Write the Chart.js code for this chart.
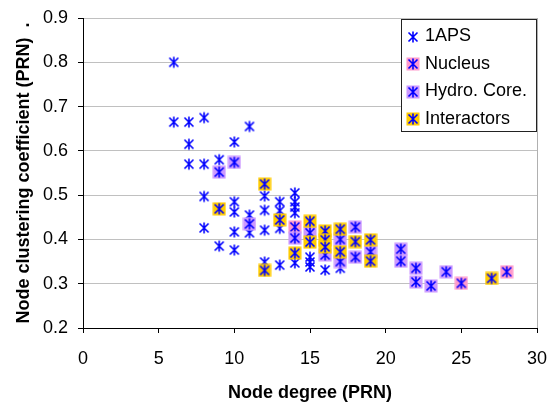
<!DOCTYPE html>
<html>
<head>
<meta charset="utf-8">
<script src="https://cdn.jsdelivr.net/npm/chart.js@4"></script>
<style>
  html, body { margin: 0; padding: 0; background: #fff; }
  canvas { display: block; }
</style>
</head>
<body>
<canvas id="myChart" width="547" height="405"></canvas>
<script>
// data
const apsDeg  = [6, 6, 7, 7, 7, 8, 8, 8, 8, 9, 9, 10, 10, 10, 10, 10, 11, 11, 11, 12, 12, 12, 12, 13, 13, 13, 13, 14, 14, 14, 14, 14, 15, 15, 15, 16, 17];
const apsCoef = [0.80, 0.665, 0.665, 0.615, 0.57, 0.675, 0.57, 0.497, 0.426, 0.58, 0.385, 0.62, 0.485, 0.462, 0.417, 0.376, 0.655, 0.455, 0.415, 0.498, 0.466, 0.421, 0.349, 0.485, 0.465, 0.425, 0.342, 0.505, 0.485, 0.473, 0.46, 0.347, 0.36, 0.349, 0.338, 0.331, 0.335];

const nucDeg  = [14, 25, 28];
const nucCoef = [0.428, 0.301, 0.327];

const hydDeg  = [9, 10, 11, 14, 15, 16, 17, 17, 18, 18, 19, 21, 21, 22, 22, 23, 24];
const hydCoef = [0.552, 0.574, 0.435, 0.403, 0.415, 0.365, 0.40, 0.35, 0.428, 0.36, 0.372, 0.378, 0.351, 0.335, 0.304, 0.295, 0.327];

const intDeg  = [9, 12, 12, 13, 14, 15, 15, 16, 16, 16, 17, 17, 18, 19, 19, 27];
const intCoef = [0.469, 0.525, 0.33, 0.444, 0.369, 0.441, 0.394, 0.419, 0.399, 0.383, 0.423, 0.372, 0.395, 0.399, 0.351, 0.312];

const seriesNames = ['1APS', 'Nucleus', 'Hydro. Core.', 'Interactors'];
const seriesFills = [null, '#ff99cc', '#cc99ff', '#ffcc00'];

const xTicks = [0, 5, 10, 15, 20, 25, 30];
const yTicks = [0.2, 0.3, 0.4, 0.5, 0.6, 0.7, 0.8, 0.9];

const FONT = "'Liberation Sans', Arial, sans-serif";

// excel style star marker, optionally on a coloured square
function makeMarker(fill) {
    const c = document.createElement('canvas');
    c.width = 14;
    c.height = 14;
    const g = c.getContext('2d');
    if (fill) {
        g.fillStyle = fill;
        g.fillRect(0.5, 0.5, 13, 13);
    }
    g.strokeStyle = '#0000ff';
    g.lineWidth = 1.6;
    g.beginPath();
    g.moveTo(2.5, 2.5); g.lineTo(11.5, 11.5);
    g.moveTo(11.5, 2.5); g.lineTo(2.5, 11.5);
    g.moveTo(7, 1.5); g.lineTo(7, 12.5);
    g.stroke();
    return c;
}

const markers = seriesFills.map(makeMarker);

function pts(xs, ys) {
    return xs.map((x, i) => ({ x: x, y: ys[i] }));
}

function noPad(s) {
    s.paddingLeft = 0;
    s.paddingRight = 0;
    s.paddingTop = 0;
    s.paddingBottom = 0;
}

const boxLegend = {
    id: 'boxLegend',
    afterDraw(chart) {
        const c = chart.ctx;
        c.save();
        c.fillStyle = '#fff';
        c.fillRect(401.5, 19.5, 135, 112);
        c.strokeStyle = '#222';
        c.lineWidth = 1;
        c.strokeRect(401.5, 19.5, 135, 112);
        c.font = '18px ' + FONT;
        c.fillStyle = '#000';
        c.textBaseline = 'middle';
        c.textAlign = 'left';
        seriesNames.forEach((name, i) => {
            const y = 36.5 + i * 27.5;
            c.drawImage(markers[i], 406, Math.round(y - 7));
            c.fillText(name, 425, y);
        });
        c.restore();
    }
};

const ctx = document.getElementById('myChart');

new Chart(ctx, {
    type: 'scatter',
    data: {
        datasets: [
            { label: seriesNames[3], data: pts(intDeg, intCoef), pointStyle: markers[3] },
            { label: seriesNames[2], data: pts(hydDeg, hydCoef), pointStyle: markers[2] },
            { label: seriesNames[1], data: pts(nucDeg, nucCoef), pointStyle: markers[1] },
            { label: seriesNames[0], data: pts(apsDeg, apsCoef), pointStyle: markers[0] }
        ]
    },
    options: {
        responsive: false,
        animation: false,
        devicePixelRatio: 1,
        layout: { padding: { top: 18, right: 10, left: 0, bottom: 0 } },
        plugins: {
            legend: { display: false },
            tooltip: { enabled: false }
        },
        scales: {
            x: {
                type: 'linear',
                min: 0,
                max: 30,
                afterBuildTicks: s => { s.ticks = xTicks.map(v => ({ value: v })); },
                afterFit: s => { s.height = 77; noPad(s); },
                border: { color: '#000', width: 1 },
                grid: {
                    color: c => (c.tick && c.tick.value === 30) ? '#b0b0b0' : 'rgba(0,0,0,0)',
                    tickColor: '#000',
                    tickLength: 5
                },
                ticks: {
                    color: '#000',
                    padding: 15,
                    font: { family: FONT, size: 18 }
                },
                title: {
                    display: true,
                    text: 'Node degree (PRN)',
                    color: '#000',
                    padding: { top: 0, bottom: 1 },
                    font: { family: FONT, size: 18, weight: 'bold' }
                }
            },
            y: {
                type: 'linear',
                min: 0.2,
                max: 0.9,
                afterBuildTicks: s => { s.ticks = yTicks.map(v => ({ value: v })); },
                afterFit: s => { s.width = 83; noPad(s); },
                border: { color: '#000', width: 1 },
                grid: {
                    color: '#c0c0c0',
                    tickColor: '#000',
                    tickLength: 5
                },
                ticks: {
                    color: '#000',
                    padding: 10,
                    font: { family: FONT, size: 18 },
                    callback: v => v.toFixed(1)
                },
                title: {
                    display: true,
                    text: 'Node clustering coefficient (PRN)  .',
                    color: '#000',
                    padding: { top: 13, bottom: 0 },
                    font: { family: FONT, size: 18, weight: 'bold' }
                }
            }
        }
    },
    plugins: [boxLegend]
});
</script>
</body>
</html>
